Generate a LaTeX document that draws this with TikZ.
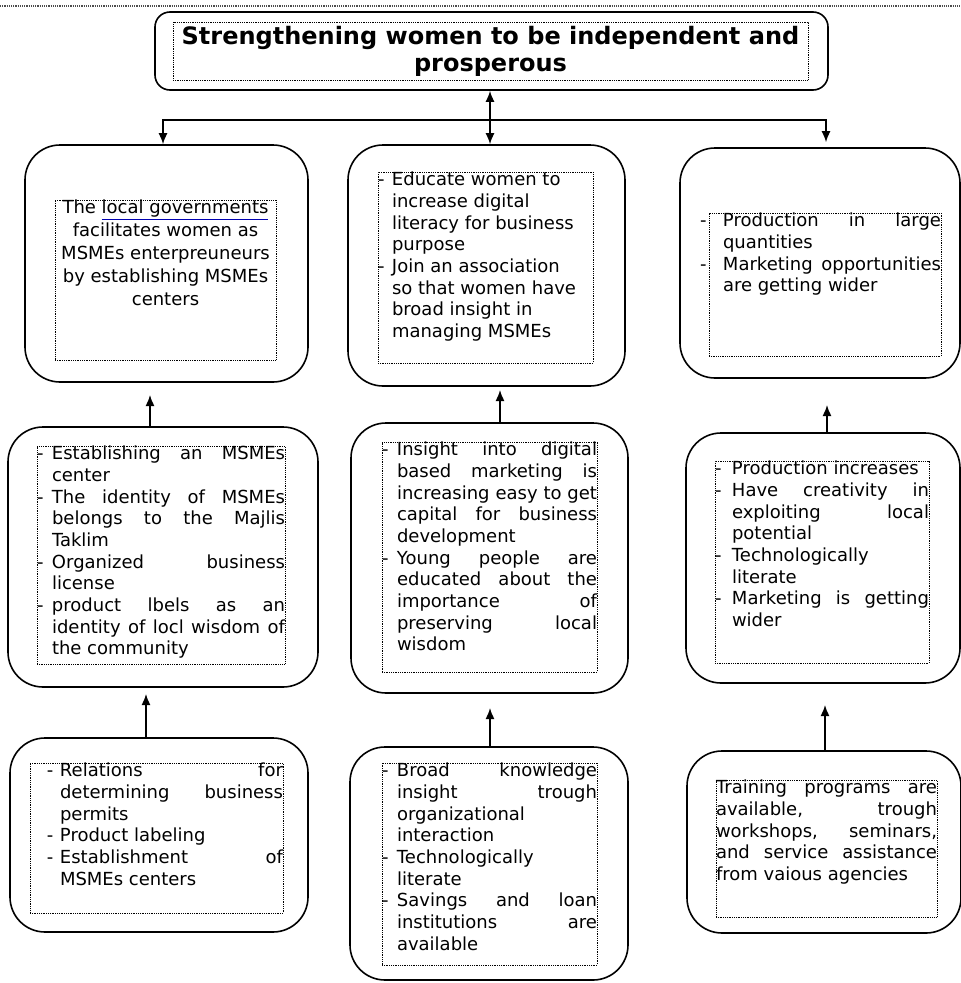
\documentclass[tikz,border=0pt]{standalone}
\usepackage{fontspec}
\setmainfont{DejaVu Sans}
\usepackage{tikz}
\usetikzlibrary{arrows.meta}
\newlength{\dashind}
\setlength{\dashind}{15pt}
\newcommand{\itm}[1][0pt]{\par\noindent\hangindent=\dashind\makebox[\dashind][l]{\hspace*{#1}-}}
\newcommand{\inbox}[3]{\parbox[c][#2][t]{#1}{\fontsize{18}{21.7}\selectfont\tolerance=10000\hbadness=10000\hyphenpenalty=10000 #3}}
\tikzset{
	panel/.style={draw,line width=1.6pt,rounded corners=35pt},
	txtbox/.style={draw,densely dotted,line width=0.8pt,inner sep=0pt},
}

\begin{document}
\begin{tikzpicture}[x=1pt,y=-1pt,>={Latex[length=11pt,width=9pt]},line width=1.5pt]
	\useasboundingbox (0,0) rectangle (961,983);
	\draw[densely dotted,line width=1.2pt,black!70] (0,6) -- (961,6);
	\node[panel,rounded corners=15pt,minimum width=673pt,minimum height=78pt] (goal) at (491.5,51) {};
	\node[txtbox,minimum width=635pt,minimum height=58pt,align=center,font=\fontsize{24}{27}\selectfont\bfseries] (goaltxt) at (490.5,51) {Strengthening women to be independent and\\prosperous};
	\node[panel,minimum width=283pt,minimum height=237pt] (gov) at (166.5,263.5) {};
	\node[panel,minimum width=277pt,minimum height=241pt] (edu) at (486.5,265.5) {};
	\node[panel,minimum width=280pt,minimum height=230pt] (prod) at (820,263) {};
	\node[panel,minimum width=310pt,minimum height=260pt] (msme) at (163,557) {};
	\node[panel,minimum width=277pt,minimum height=270pt] (insight) at (489.5,558) {};
	\node[panel,minimum width=274pt,minimum height=250pt] (skill) at (823,558) {};
	\node[panel,minimum width=298pt,minimum height=194pt] (relation) at (159,835) {};
	\node[panel,minimum width=278pt,minimum height=233pt] (knowledge) at (489,863.5) {};
	\node[panel,minimum width=274pt,minimum height=182pt] (training) at (824,842) {};
	\node[txtbox] (govtxt) at (165.5,280) {\inbox{221pt}{160pt}{\centering\setlength{\baselineskip}{23pt}The {\color{blue!70!black}\underline{\textcolor{black}{local governments}}}\\ facilitates women as\\ MSMEs enterpreuneurs\\ by establishing MSMEs\\ centers\par}};
	\node[txtbox] (edutxt) at (485.5,267.5) {\inbox{215pt}{191pt}{\raggedright\setlength{\dashind}{14pt}\itm Educate women to\newline increase digital\newline literacy for business\newline purpose\itm Join an association\newline so that women have\newline broad insight in\newline managing MSMEs\par}};
	\node[txtbox] (prodtxt) at (825,284.5) {\inbox{232pt}{143pt}{\setlength{\dashind}{14pt}\itm[-9pt]Production in large\linebreak quantities\itm[-9pt]Marketing~opportunities\linebreak are getting wider\par}};
	\node[txtbox] (msmetxt) at (161,555) {\inbox{248pt}{218pt}{\itm Establishing an MSMEs\linebreak center\itm The identity of MSMEs\linebreak belongs to the Majlis\linebreak Taklim\itm Organized business\linebreak license\itm product lbels as an\linebreak identity of locl wisdom of\linebreak the community\par}};
	\node[txtbox] (insighttxt) at (489.5,557) {\inbox{215pt}{230pt}{\itm Insight into digital\linebreak based marketing is\linebreak increasing easy to get\linebreak capital for business\linebreak development\itm Young people are\linebreak educated about the\linebreak importance of\linebreak preserving local\linebreak wisdom\par}};
	\node[txtbox] (skilltxt) at (822,562) {\inbox{214pt}{202pt}{\setlength{\dashind}{17pt}\itm Production increases\itm Have creativity in\linebreak exploiting local\linebreak potential\itm Technologically\linebreak literate\itm Marketing is getting\linebreak wider\par}};
	\node[txtbox] (relationtxt) at (156.5,838) {\inbox{253pt}{150pt}{\setlength{\dashind}{30pt}\itm[17pt]Relations for\linebreak determining business\linebreak permits\itm[17pt]Product labeling\itm[17pt]Establishment of\linebreak MSMEs centers\par}};
	\node[txtbox] (knowledgetxt) at (489.5,864) {\inbox{215pt}{202pt}{\itm Broad knowledge\linebreak insight trough\linebreak organizational\linebreak interaction\itm Technologically\linebreak literate\itm Savings and loan\linebreak institutions are\linebreak available\par}};
	\node[txtbox] (trainingtxt) at (826.5,848.5) {\inbox{221pt}{137pt}{Training programs are\linebreak available, trough\linebreak workshops, seminars,\linebreak and service assistance\linebreak from vaious agencies\par}};
	\coordinate (hubL) at (163,120);
	\coordinate (hubM) at (490,120);
	\coordinate (hubR) at (826,120);
	\draw[<->] (hubM |- goal.south) -- (hubM |- edu.north);
	\draw[->] (hubM) -- (hubL) -- (hubL |- gov.north);
	\draw[->,shorten >=5pt] (hubM) -- (hubR) -- (hubR |- prod.north);
	\coordinate (tipA) at (150,395);
	\coordinate (tipB) at (500,390);
	\coordinate (tipC) at (827,405);
	\coordinate (tipD) at (146,694);
	\coordinate (tipE) at (490,708);
	\coordinate (tipF) at (825,705);
	\draw[->] (msme.north -| tipA) -- (tipA);
	\draw[->] (insight.north -| tipB) -- (tipB);
	\draw[->] (skill.north -| tipC) -- (tipC);
	\draw[->] (relation.north -| tipD) -- (tipD);
	\draw[->] (knowledge.north -| tipE) -- (tipE);
	\draw[->] (training.north -| tipF) -- (tipF);
\end{tikzpicture}
\end{document}
